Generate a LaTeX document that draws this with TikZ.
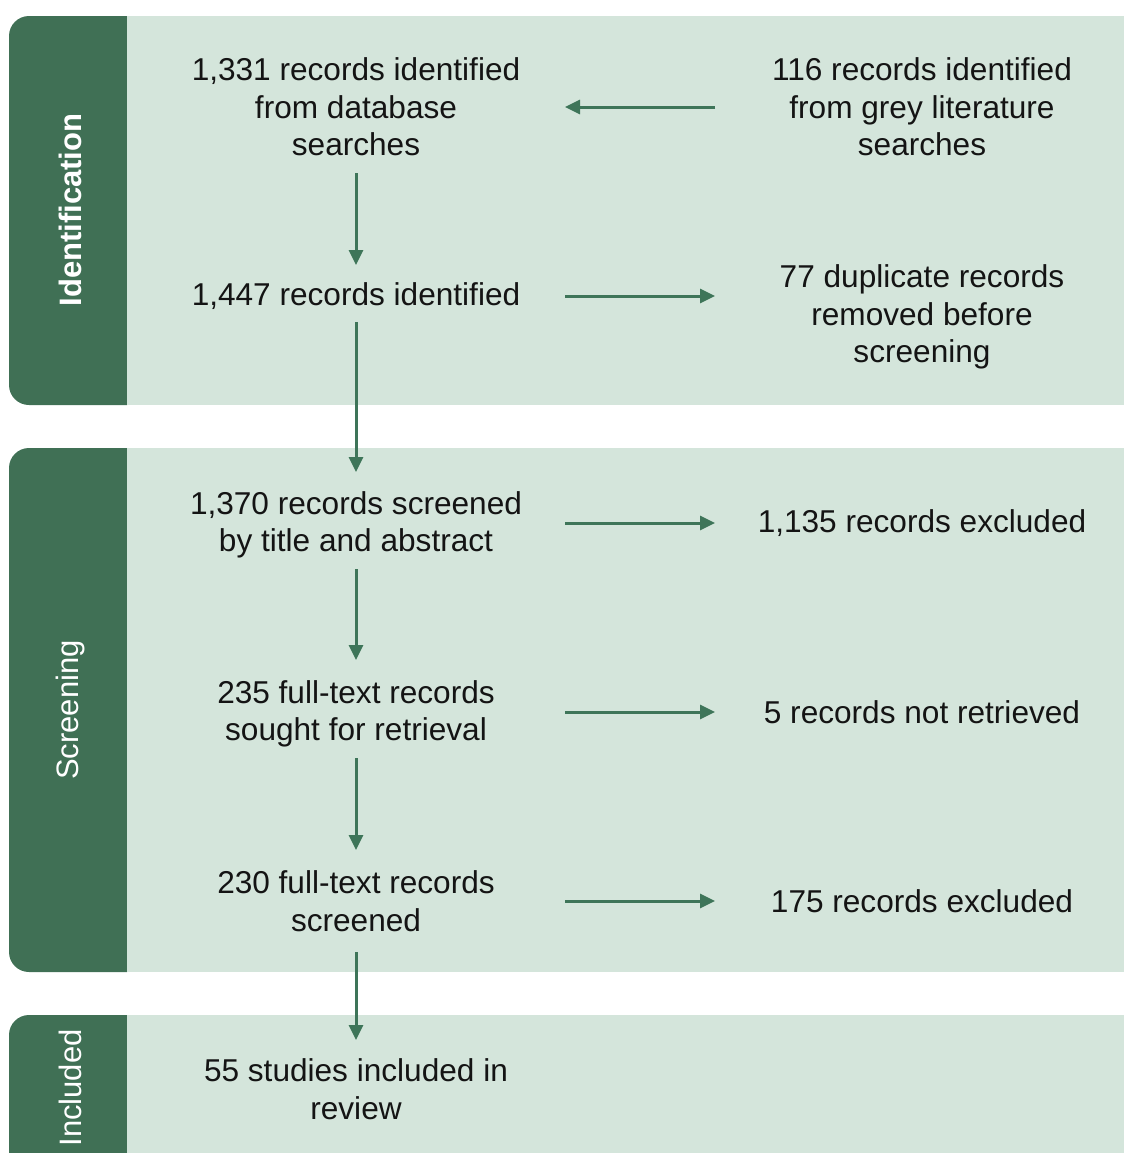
\documentclass[tikz,border=0pt]{standalone}
\usepackage{fontspec}
\setmainfont{Liberation Sans}
\usetikzlibrary{arrows.meta}
\definecolor{banddark}{HTML}{407055}
\definecolor{bandlight}{HTML}{D4E5DB}
\definecolor{flowgreen}{HTML}{3E7559}
\tikzset{
  recnode/.style={align=center, inner sep=0pt, text=black!92,
    font=\fontsize{15.8pt}{18.8pt}\selectfont},
  phaselabel/.style={rotate=90, inner sep=0pt, text=white,
    font=\fontsize{15.5pt}{18pt}\selectfont},
  flowarrow/.style={draw=flowgreen, line width=1.5pt,
    -{Triangle[length=7.5pt,width=7pt]}},
  toright/.style={shorten <=104.5pt, shorten >=103.5pt}
}
\begin{document}
\begin{tikzpicture}[x=0.5pt,y=-0.5pt]
\useasboundingbox (0,0) rectangle (1126,1153);
\clip (0,0) rectangle (1126,1153);
% phase bands
\foreach \top/\bot in {16/405, 448/972, 1015/1200} {
  \fill[banddark, rounded corners=10pt] (127,\top) -- (9,\top) -- (9,\bot) -- (127,\bot);
  \fill[bandlight] (127,\top) rectangle (1124,\bot);
}
\node[phaselabel] (ident) at (70,210) {\bfseries Identification};
\node[phaselabel] (screen) at (70,710) {Screening};
\node[phaselabel] (incl) at (70,1088) {Included};
% main column
\node[recnode] (n1) at (356,107) {1,331 records identified\\from database\\searches};
\node[recnode] (n2) at (356,296) {1,447 records identified};
\node[recnode] (n3) at (356,525) {1,370 records screened\\by title and abstract};
\node[recnode] (n4) at (356,714) {235 full-text records\\sought for retrieval};
\node[recnode] (n5) at (356,901) {230 full-text records\\screened};
\node[recnode] (n6) at (356,1089) {55 studies included in\\review};
% side column
\node[recnode] (r1) at (922,107) {116 records identified\\from grey literature\\searches};
\node[recnode] (r2) at (922,317) {77 duplicate records\\removed before\\screening};
\node[recnode] (r3) at (922,523) {1,135 records excluded};
\node[recnode] (r4) at (922,712) {5 records not retrieved};
\node[recnode] (r5) at (922,901) {175 records excluded};
% arrows down
\foreach \a/\b/\s/\e in {n1/n2/33/15.5, n2/n3/13/26.5, n3/n4/22/27, n4/n5/22/25.5, n5/n6/25.5/24.5}
\draw[flowarrow, shorten <=\s pt, shorten >=\e pt] (\a.center) -- (\b.center);
% arrows across
\draw[flowarrow, shorten <=103.5pt, shorten >=104.5pt] (r1.center) -- (n1.center);
\draw[flowarrow, toright] (n2.center) -- (n2.center -| r2.center);
\foreach \a/\b in {n3/r3, n4/r4, n5/r5}
\draw[flowarrow, toright] (\b.center -| \a.center) -- (\b.center);
\end{tikzpicture}
\end{document}
